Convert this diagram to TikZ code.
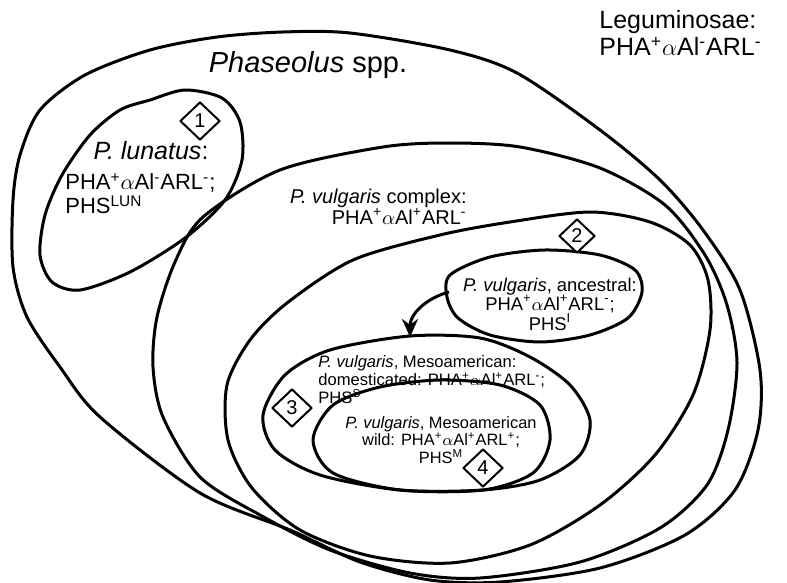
\documentclass[tikz,border=0pt]{standalone}
\usepackage{fontspec}
\setmainfont{Liberation Sans}
\usetikzlibrary{shapes.geometric,arrows.meta}
\newcommand{\myPHA}[3]{PHA\textsuperscript{#1}$\alpha$Al\textsuperscript{#2}ARL\textsuperscript{#3}}
\newcommand{\stkL}[2]{\vtop{\baselineskip=#1\relax\lineskiplimit=-20pt\lineskip=0pt\halign{##\hfil\cr#2\crcr}}}
\newcommand{\stkC}[2]{\vtop{\baselineskip=#1\relax\lineskiplimit=-20pt\lineskip=0pt\halign{\hfil##\hfil\cr#2\crcr}}}
\newcommand{\stkR}[2]{\vtop{\baselineskip=#1\relax\lineskiplimit=-20pt\lineskip=0pt\halign{\hfil##\cr#2\crcr}}}
\begin{document}
\begin{tikzpicture}[x=0.5pt,y=-0.5pt,line join=round]
\tikzset{
  blob/.style={line width=1.5pt},
  numbox/.style={draw,diamond,line width=1pt,inner sep=0pt,minimum width=20pt,minimum height=19pt,fill=white,font=\fontsize{10}{10}\selectfont},
  lbl/.style={inner sep=0pt}
}
\useasboundingbox (0,0) rectangle (787,583);
% Phaseolus spp.
\draw[blob] plot[smooth cycle] coordinates {(150,50) (217,37) (283,32) (350,33) (450,50) (517,73) (600,130) (660,180) (703,230) (740,290) (760,370) (758,430) (735,490) (685,535) (600,568) (500,582) (430,580) (360,562) (290,530) (200,493) (100,417) (60,367) (27,317) (13,267) (13,200) (20,155) (40,110) (85,75)};
% P. lunatus
\draw[blob] plot[smooth cycle] coordinates {(150,100) (185,90) (222,98) (240,122) (242,160) (225,200) (185,238) (130,272) (80,290) (52,282) (40,255) (45,215) (62,175) (90,135) (120,110)};
% P. vulgaris complex
\draw[blob] plot[smooth cycle] coordinates {(175,262) (203,217) (280,170) (383,147) (450,143) (520,147) (600,168) (665,205) (705,255) (727,305) (737,363) (728,430) (707,485) (660,528) (580,562) (480,578) (410,573) (330,550) (260,515) (200,477) (163,417) (153,367) (157,317)};
% inner group
\draw[blob] plot[smooth cycle] coordinates {(250,340) (287,303) (353,260) (440,235) (510,222) (590,212) (650,222) (690,245) (708,280) (710,330) (693,395) (655,455) (600,505) (530,545) (450,563) (370,556) (300,530) (252,488) (228,440) (227,385)};
% ancestral
\draw[blob] plot[smooth cycle] coordinates {(450,275) (490,257) (545,250) (600,255) (635,270) (642,292) (628,318) (590,335) (540,342) (490,335) (458,318) (447,297)};
% Mesoamerican domesticated
\draw[blob] plot[smooth cycle] coordinates {(330,350) (410,336) (480,338) (530,357) (570,385) (590,420) (580,455) (540,480) (483,490) (400,490) (320,475) (275,450) (263,415) (285,375)};
% Mesoamerican wild
\draw[blob] plot[smooth cycle] coordinates {(313,440) (333,405) (380,387) (440,380) (500,385) (540,405) (550,440) (533,473) (483,490) (400,490) (333,473)};

% arrow
\coordinate (arrS) at (449,292);
\coordinate (arrE) at (410,337);
\draw[line width=1.5pt,-{Stealth[length=9pt,width=8pt]}] (arrS) to[out=195,in=90] (arrE);

% labels
\node[lbl,anchor=base west,font=\fontsize{12.5}{12.5}\selectfont] (leg) at (599,29) {\stkL{13.5pt}{Leguminosae:\cr\myPHA{+}{-}{-}}};
\node[lbl,anchor=base,font=\fontsize{14.5}{14}\selectfont] (pha) at (308,73) {\textit{Phaseolus} spp.};
\node[lbl,anchor=base,font=\fontsize{12.5}{12}\selectfont] (lun) at (151,160) {\textit{P. lunatus}:};
\node[lbl,anchor=base west,font=\fontsize{11}{11}\selectfont] (lunb) at (65,190) {\stkL{12pt}{\myPHA{+}{-}{-};\cr PHS\textsuperscript{LUN}}};
\node[lbl,anchor=base east,font=\fontsize{10}{10}\selectfont] (cpx) at (467,203) {\stkR{10.5pt}{\textit{P. vulgaris} complex:\cr\myPHA{+}{+}{-}}};
\node[lbl,anchor=base,font=\fontsize{9.2}{9.2}\selectfont] (anc) at (550,291) {\stkC{9.8pt}{\textit{P. vulgaris}, ancestral:\cr\myPHA{+}{+}{-};\cr PHS\textsuperscript{I}}};
\node[lbl,anchor=base west,font=\fontsize{8.3}{8.3}\selectfont] (dom) at (318,367) {\stkL{9pt}{\textit{P. vulgaris}, Mesoamerican:\cr domesticated: \myPHA{+}{+}{-};\cr PHS\textsuperscript{S}}};
\node[lbl,anchor=base,font=\fontsize{8.2}{8.2}\selectfont] (wld) at (441,428) {\stkC{8.8pt}{\textit{P. vulgaris}, Mesoamerican\cr wild: \myPHA{+}{+}{+};\cr PHS\textsuperscript{M}}};

% numbered diamonds
\node[numbox] (d1) at (200,121) {1};
\node[numbox,minimum width=18pt,minimum height=17pt] (d2) at (577,236) {2};
\node[numbox] (d3) at (292,408) {3};
\node[numbox] (d4) at (483,468) {4};
\end{tikzpicture}
\end{document}
